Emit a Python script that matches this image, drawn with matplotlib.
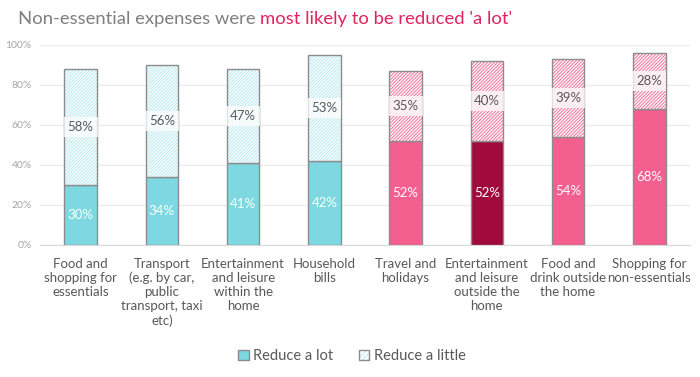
import matplotlib
matplotlib.use("Agg")
import matplotlib.pyplot as plt
from matplotlib.patches import Patch
from matplotlib.legend_handler import HandlerTuple
import numpy as np

categories = ["Food and\nshopping for\nessentials",
              "Transport\n(e.g. by car,\npublic\ntransport, taxi\netc)",
              "Entertainment\nand leisure\nwithin the\nhome",
              "Household\nbills",
              "Travel and\nholidays",
              "Entertainment\nand leisure\noutside the\nhome",
              "Food and\ndrink outside\nthe home",
              "Shopping for\nnon-essentials"]
reduce_lot = [30, 34, 41, 42, 52, 52, 54, 68]
reduce_little = [58, 56, 47, 53, 35, 40, 39, 28]
yticks = [0, 20, 40, 60, 80, 100]

TEAL = "#7DD8E2"
TEAL_H = "#BDEBF1"
PINK = "#F3608F"
PINK_H = "#F47BA3"
DARK = "#A00A3D"
EDGE = "#8C8C8C"
GREY = "#7F7F7F"

lot_colors = [TEAL] * 4 + [PINK, DARK, PINK, PINK]
hatch_colors = [TEAL_H] * 4 + [PINK_H] * 4

plt.rcParams['font.family'] = ['Lato', 'DejaVu Sans']
plt.rcParams['hatch.linewidth'] = 0.8

fig = plt.figure(figsize=(7, 3.77), dpi=100)
ax = fig.add_axes([40/700, 1 - 245/377, 650/700, 200/377])

x = np.arange(len(categories))
w = 0.4

ax.bar(x, reduce_lot, w, color=lot_colors, edgecolor=EDGE, linewidth=1.0, zorder=3)
for i in range(len(x)):
    ax.bar(x[i], reduce_little[i], w, bottom=reduce_lot[i], color="white",
           edgecolor=hatch_colors[i], hatch="/" * 10, linewidth=0, zorder=3)
ax.bar(x, reduce_little, w, bottom=reduce_lot, color="none",
       edgecolor=EDGE, linewidth=1.0, zorder=4)

for i in range(len(x)):
    ax.text(x[i], reduce_lot[i] / 2, f"{reduce_lot[i]}%", ha="center", va="center",
            color="white", fontsize=9.5, zorder=5)
    ax.text(x[i], reduce_lot[i] + reduce_little[i] / 2, f"{reduce_little[i]}%",
            ha="center", va="center", color="#595959", fontsize=9.5, zorder=5,
            bbox=dict(boxstyle="square,pad=0.3", fc="white", ec="none", alpha=0.75))

ax.set_xlim(-0.5, len(x) - 0.5)
ax.set_ylim(0, 100)
ax.set_yticks(yticks)
ax.set_yticklabels([f"{t}%" for t in yticks], color="#A6A6A6", fontsize=7.5)
ax.yaxis.grid(True, color="#EDEDED", linewidth=1, zorder=0)
ax.set_xticks(x)
ax.set_xticklabels(categories, color="#595959", fontsize=9.5, linespacing=1.2, va="top")
ax.tick_params(axis="both", length=0)
ax.tick_params(axis="x", pad=9)
ax.tick_params(axis="y", pad=6)
for s in ["top", "right", "left"]:
    ax.spines[s].set_visible(False)
ax.spines["bottom"].set_color("#D9D9D9")

# title
t1 = fig.text(18/700, 1 - 24/377, "Non-essential expenses were ", color=GREY,
              fontsize=13.3, ha="left", va="baseline")
fig.canvas.draw()
fig.add_artist(plt.Annotation("most likely to be reduced 'a lot'", xy=(1, 0),
                              xycoords=t1, color="#E0245E", fontsize=13.3,
                              ha="left", va="bottom"))

h_lot = Patch(facecolor=TEAL, edgecolor=EDGE)
h_little = (Patch(facecolor="white", edgecolor=TEAL_H, hatch="/" * 6, linewidth=0),
            Patch(facecolor="none", edgecolor=EDGE))
leg = fig.legend([h_lot, h_little], ["Reduce a lot", "Reduce a little"],
                 handler_map={tuple: HandlerTuple(ndivide=1, pad=0)},
                 loc="center", bbox_to_anchor=(352/700, 1 - 356/377),
                 ncol=2, frameon=False, fontsize=10.5, handlelength=0.7,
                 handleheight=0.7, handletextpad=0.3, columnspacing=1.8)
for t in leg.get_texts():
    t.set_color("#595959")

fig.savefig("out.png", dpi=100)
